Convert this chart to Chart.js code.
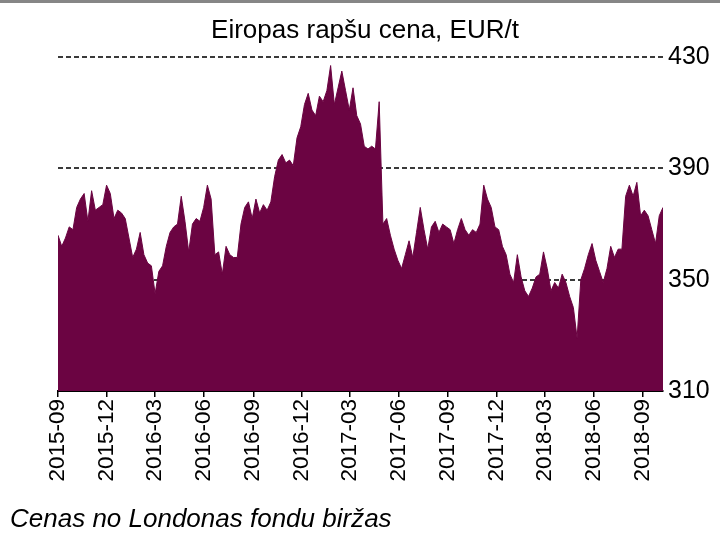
<!DOCTYPE html>
<html>
<head>
<meta charset="utf-8">
<script src="https://cdn.jsdelivr.net/npm/chart.js@4.4.1/dist/chart.umd.min.js"></script>
<style>
  html, body { margin: 0; padding: 0; background: #fff; }
  #wrap { width: 720px; height: 533px; }
</style>
</head>
<body>
<div id="wrap"><canvas id="chart" width="720" height="533"></canvas></div>
<script>
// weekly prices, first week = 2015-09-01
const startDate = "2015-09-01";
const prices = [
  366, 362, 365, 369, 368, 376, 379, 381, 371, 382,
  375, 376, 377, 384, 381, 372, 375, 374, 372, 365,
  358, 361, 367, 359, 356, 355, 345, 353, 355, 362,
  367, 369, 370, 380, 371, 360, 370, 372, 371, 376,
  384, 379, 359, 360, 352, 362, 359, 358, 358, 370,
  376, 378, 372, 379, 374, 377, 375, 378, 387, 393,
  395, 392, 393, 391, 401, 405, 413, 417, 411, 409,
  416, 414, 418, 427, 413, 419, 425, 418, 411, 419,
  409, 406, 398, 397, 398, 397, 414, 370, 372, 366,
  361, 357, 354, 359, 364, 358, 367, 376, 368, 361,
  369, 371, 367, 370, 369, 368, 363, 368, 372, 368,
  366, 368, 367, 370, 384, 379, 376, 369, 368, 362,
  359, 352, 349, 359, 351, 346, 344, 347, 351, 352,
  360, 354, 346, 349, 347, 352, 349, 344, 340, 329,
  350, 354, 359, 363, 357, 353, 349, 354, 362, 358,
  361, 361, 380, 384, 380, 385, 373, 375, 373, 368,
  363, 373, 376
];
const tickLabels = ["2015-09", "2015-12", "2016-03", "2016-06", "2016-09", "2016-12",
  "2017-03", "2017-06", "2017-09", "2017-12", "2018-03", "2018-06", "2018-09"];
const yTicks = [310, 350, 390, 430];

const DAY = 86400000;
const weekOf = (ym) => (Date.parse(ym + "-01") - Date.parse(startDate)) / DAY / 7;
const tickWeeks = tickLabels.map(weekOf);

const topLine = {
  id: "topLine",
  beforeDraw(chart) {
    const ctx = chart.ctx;
    ctx.save();
    ctx.fillStyle = "#868686";
    ctx.fillRect(0, 0, chart.width, 3);
    ctx.restore();
  }
};

const font = "Liberation Sans, Arial";

new Chart(document.getElementById("chart"), {
  type: "line",
  data: {
    datasets: [{
      data: prices.map((v, i) => ({ x: i, y: v })),
      xAxisID: "x",
      yAxisID: "y",
      backgroundColor: "#6b0442",
      borderColor: "#6b0442",
      borderWidth: 1,
      fill: "start",
      pointRadius: 0,
      tension: 0
    }]
  },
  options: {
    responsive: false,
    animation: false,
    layout: { padding: { left: 10, right: 0, top: 0, bottom: 0 } },
    plugins: {
      legend: { display: false },
      tooltip: { enabled: false },
      title: {
        display: true,
        text: "Eiropas rapšu cena, EUR/t",
        color: "#000",
        font: { family: font, size: 26, weight: "normal" },
        padding: { top: 15, bottom: 11 }
      },
      subtitle: {
        display: true,
        position: "bottom",
        align: "start",
        text: "Cenas no Londonas fondu biržas",
        color: "#000",
        font: { family: font, size: 26, style: "italic", lineHeight: 1 },
        padding: { top: 0, bottom: 0 }
      }
    },
    scales: {
      x: {
        type: "linear",
        min: 0,
        max: prices.length - 1,
        afterBuildTicks: (s) => { s.ticks = tickWeeks.map(v => ({ value: v })); },
        afterFit: (s) => { s.height = 116; },
        grid: { drawOnChartArea: false, drawTicks: true, tickLength: 6, color: "#000", lineWidth: 1.5 },
        border: { display: true, color: "#000", width: 2 },
        ticks: {
          autoSkip: false,
          maxRotation: 90,
          minRotation: 90,
          padding: 2,
          color: "#000",
          font: { family: font, size: 22.5 },
          callback: (v) => {
            const k = tickWeeks.findIndex(w => Math.abs(w - v) < 0.01);
            return k >= 0 ? tickLabels[k] : "";
          }
        }
      },
      y: {
        position: "right",
        min: 310,
        max: 430,
        afterBuildTicks: (s) => { s.ticks = yTicks.map(v => ({ value: v })); },
        afterFit: (s) => { s.width = 57; },
        grid: {
          drawTicks: false,
          lineWidth: 2,
          color: (c) => (c.tick && c.tick.value === 310 ? "rgba(0,0,0,0)" : "#3a3a3a")
        },
        border: { display: false, dash: [5, 3] },
        ticks: {
          padding: 5,
          color: "#000",
          font: { family: font, size: 25 }
        }
      },
      yl: {
        position: "left",
        display: true,
        min: 0,
        max: 1,
        afterFit: (s) => { s.width = 48; },
        grid: { display: false },
        border: { display: false },
        ticks: { display: false }
      }
    }
  },
  plugins: [topLine]
});
</script>
</body>
</html>
